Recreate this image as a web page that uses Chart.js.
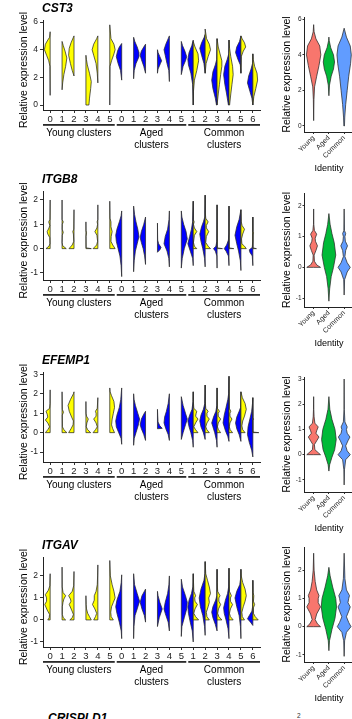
<!DOCTYPE html>
<html>
<head>
<meta charset="utf-8">
<script src="https://cdn.jsdelivr.net/npm/chart.js@4.4.1/dist/chart.umd.min.js"></script>
<style>
  html, body { margin: 0; padding: 0; background: #fff; }
  body { position: relative; width: 352px; height: 719px; overflow: hidden; }
  canvas { position: absolute; }
  .cut { position: absolute; font-family: "Liberation Sans", Arial, sans-serif; color: #000; white-space: nowrap; }
</style>
</head>
<body>
<div class="cut" style="left:48px;top:711px;font-weight:bold;font-style:italic;font-size:12px">CRISPLD1</div>
<div class="cut" style="left:297px;top:712px;font-size:6.5px;color:#333">2</div>
<script>
const FONT = "'Liberation Sans', Arial, sans-serif";

const clusterLabels = ["0", "1", "2", "3", "4", "5", "0", "1", "2", "3", "4", "5", "1", "2", "3", "4", "5", "6"];
const clusterGroupNames = [["Young clusters"], ["Aged", "clusters"], ["Common", "clusters"]];
const clusterGroupSizes = [6, 6, 6];
const identityLabels = ["Young", "Aged", "Common"];
const identityColors = ["#F8766D", "#00BA38", "#619CFF"];
const agedColor = "#0000FF";
const youngColor = "#FFFF00";

// each violin half: [expression level, half width as a share of one category slot]
const cst3Aged = [
  null, null, null, null, null, null,
  [[1.8, 0], [2.5, 0.1], [3.0, 0.3], [3.5, 0.45], [3.9, 0.35], [4.2, 0.2], [4.45, 0]],
  [[1.9, 0], [2.5, 0.05], [3.0, 0.2], [3.5, 0.45], [3.8, 0.45], [4.2, 0.3], [4.6, 0.1], [4.9, 0]],
  [[2.3, 0], [2.8, 0.15], [3.3, 0.35], [3.6, 0.45], [3.9, 0.35], [4.2, 0.15], [4.4, 0]],
  [[2.3, 0], [2.6, 0.05], [3.0, 0.25], [3.2, 0.35], [3.5, 0.2], [3.8, 0.05], [4.0, 0]],
  [[1.7, 0], [2.5, 0.05], [3.0, 0.2], [3.6, 0.35], [4.0, 0.45], [4.4, 0.3], [4.8, 0.1], [5.0, 0]],
  [[2.2, 0], [2.8, 0.15], [3.2, 0.35], [3.5, 0.45], [3.9, 0.3], [4.3, 0.1], [4.6, 0]],
  [[0, 0], [1.5, 0.05], [2.3, 0.2], [2.9, 0.4], [3.3, 0.45], [3.8, 0.35], [4.3, 0.12], [4.7, 0]],
  [[2.3, 0], [3.0, 0.1], [3.6, 0.3], [4.1, 0.45], [4.5, 0.3], [4.9, 0.08], [5.1, 0]],
  [[0, 0.05], [0.5, 0.15], [1.2, 0.35], [1.8, 0.45], [2.4, 0.35], [2.9, 0.15], [3.3, 0.03], [4.8, 0]],
  [[0, 0.05], [0.8, 0.2], [1.5, 0.35], [2.2, 0.45], [2.8, 0.35], [3.3, 0.15], [3.7, 0.02], [4.7, 0]],
  [[2.3, 0], [2.9, 0.05], [3.3, 0.25], [3.8, 0.45], [4.2, 0.35], [4.6, 0.12], [5.0, 0]],
  [[0, 0], [0.5, 0.08], [1.0, 0.25], [1.6, 0.45], [2.1, 0.35], [2.6, 0.15], [3.0, 0.03], [3.7, 0]]
];
const cst3Young = [
  [[0.7, 0], [2.8, 0.02], [3.2, 0.12], [3.6, 0.3], [4.0, 0.48], [4.4, 0.4], [4.7, 0.2], [4.9, 0.05], [5.3, 0]],
  [[1.1, 0], [1.6, 0.05], [2.2, 0.15], [2.8, 0.3], [3.4, 0.4], [3.9, 0.25], [4.3, 0.1], [4.6, 0]],
  [[2.1, 0], [2.5, 0.15], [3.0, 0.3], [3.6, 0.45], [4.1, 0.4], [4.5, 0.25], [4.9, 0.05], [5.0, 0]],
  [[0, 0.25], [0.5, 0.3], [1.2, 0.4], [1.7, 0.45], [2.3, 0.3], [2.9, 0.12], [3.3, 0.04], [3.6, 0]],
  [[1.6, 0], [2.3, 0.05], [3.0, 0.15], [3.6, 0.35], [4.0, 0.48], [4.4, 0.35], [4.8, 0.1], [5.0, 0]],
  [[0, 0], [2.8, 0.02], [3.2, 0.15], [3.7, 0.35], [4.0, 0.45], [4.4, 0.35], [4.8, 0.1], [5.8, 0]],
  null, null, null, null, null, null,
  [[0, 0], [1.0, 0.02], [1.8, 0.1], [2.5, 0.3], [3.2, 0.45], [3.7, 0.4], [4.2, 0.15], [4.6, 0]],
  [[2.3, 0], [3.0, 0.08], [3.5, 0.25], [4.0, 0.45], [4.4, 0.35], [4.8, 0.12], [5.5, 0]],
  [[0, 0], [0.8, 0.1], [1.5, 0.2], [2.2, 0.3], [2.8, 0.4], [3.2, 0.4], [3.7, 0.25], [4.2, 0.1], [4.8, 0]],
  [[0, 0.05], [0.8, 0.15], [1.5, 0.25], [2.2, 0.35], [2.8, 0.3], [3.5, 0.15], [4.1, 0.05], [4.7, 0]],
  [[2.3, 0], [3.5, 0.03], [3.9, 0.2], [4.2, 0.4], [4.5, 0.3], [4.8, 0.1], [5.0, 0]],
  [[0, 0], [0.6, 0.08], [1.2, 0.25], [1.8, 0.4], [2.3, 0.35], [2.8, 0.15], [3.3, 0.03], [3.7, 0]]
];
const cst3Identity = [
  [[0.3, 0], [1.5, 0.02], [2.2, 0.06], [2.8, 0.2], [3.4, 0.35], [4.0, 0.47], [4.5, 0.4], [4.9, 0.15], [5.3, 0.03], [5.7, 0]],
  [[1.7, 0], [2.3, 0.04], [2.8, 0.15], [3.2, 0.3], [3.6, 0.37], [4.0, 0.3], [4.4, 0.12], [4.8, 0.02], [5.0, 0]],
  [[0, 0.02], [0.5, 0.04], [1.2, 0.1], [2.0, 0.2], [2.8, 0.3], [3.5, 0.42], [4.0, 0.47], [4.5, 0.4], [5.0, 0.15], [5.5, 0]]
];

const itgb8Aged = [
  null, null, null, null, null, null,
  [[-1.15, 0], [-0.7, 0.05], [-0.3, 0.15], [0, 0.3], [0.3, 0.45], [0.55, 0.5], [0.8, 0.4], [1.1, 0.2], [1.35, 0.05], [1.55, 0]],
  [[-0.95, 0], [-0.5, 0.05], [-0.1, 0.15], [0.2, 0.3], [0.5, 0.45], [0.8, 0.35], [1.1, 0.2], [1.4, 0.08], [1.75, 0]],
  [[-0.65, 0], [-0.3, 0.08], [0, 0.2], [0.25, 0.35], [0.45, 0.45], [0.7, 0.35], [1.0, 0.15], [1.3, 0]],
  [[-0.15, 0], [-0.05, 0.2], [0.05, 0.3], [0.2, 0.1], [0.35, 0.02], [0.6, 0.01], [1.05, 0]],
  [[-0.75, 0], [-0.4, 0.05], [-0.1, 0.2], [0.2, 0.45], [0.5, 0.35], [0.8, 0.15], [1.2, 0.03], [1.55, 0]],
  [[-0.8, 0], [-0.4, 0.08], [0, 0.25], [0.4, 0.5], [0.7, 0.4], [1.0, 0.2], [1.3, 0.05], [1.55, 0]],
  [[-0.7, 0], [-0.4, 0.05], [-0.1, 0.25], [0.2, 0.45], [0.5, 0.3], [0.8, 0.15], [1.1, 0.05], [1.95, 0]],
  [[-0.75, 0], [-0.4, 0.05], [0, 0.2], [0.3, 0.35], [0.6, 0.45], [0.9, 0.3], [1.1, 0.15], [1.3, 0.03], [2.2, 0]],
  [[-0.8, 0], [-0.3, 0.02], [-0.1, 0.15], [0, 0.3], [0.1, 0.1], [0.3, 0.02], [1.8, 0]],
  [[-0.7, 0], [-0.3, 0.05], [-0.1, 0.25], [0, 0.4], [0.15, 0.2], [0.35, 0.05], [0.6, 0.01], [1.75, 0]],
  [[-0.9, 0], [-0.5, 0.05], [-0.1, 0.2], [0.2, 0.35], [0.55, 0.5], [0.9, 0.35], [1.2, 0.15], [1.6, 0]],
  [[-0.7, 0], [-0.3, 0.05], [-0.15, 0.25], [-0.05, 0.3], [0.05, 0.05], [0.3, 0.01], [1.3, 0]]
];
const itgb8Young = [
  [[0, 0.35], [0.1, 0.1], [0.2, 0.02], [0.45, 0.03], [0.6, 0.2], [0.7, 0.25], [0.85, 0.1], [0.95, 0.03], [1.1, 0.12], [1.2, 0.02], [2.0, 0]],
  [[0, 0.35], [0.12, 0.05], [0.25, 0], [0.55, 0.02], [0.67, 0.1], [0.8, 0.01], [1.0, 0.02], [1.1, 0.1], [1.2, 0], [2.0, 0]],
  [[0, 0.42], [0.15, 0.15], [0.3, 0.02], [0.6, 0.05], [0.7, 0.1], [0.8, 0.02], [1.6, 0]],
  [[0, 0.45], [0.03, 0.02], [0.5, 0.01], [0.65, 0.05], [0.75, 0.01], [1.1, 0]],
  [[0, 0.4], [0.15, 0.1], [0.3, 0.02], [0.55, 0.08], [0.7, 0.25], [0.85, 0.08], [1.0, 0.02], [1.1, 0.06], [1.2, 0], [1.8, 0]],
  [[0, 0.45], [0.15, 0.25], [0.3, 0.1], [0.5, 0.12], [0.7, 0.2], [0.9, 0.1], [1.1, 0.1], [1.25, 0.02], [1.95, 0]],
  null, null, null, null, null, null,
  [[0, 0.3], [0.1, 0.1], [0.25, 0.02], [0.55, 0.1], [0.7, 0.3], [0.85, 0.1], [1.0, 0.02], [1.1, 0.08], [1.2, 0], [1.95, 0]],
  [[0, 0.45], [0.1, 0.25], [0.25, 0.05], [0.5, 0.1], [0.7, 0.3], [0.85, 0.1], [0.95, 0.1], [1.1, 0.25], [1.25, 0.05], [1.5, 0.01], [2.2, 0]],
  [[0, 0.45], [0.03, 0.02], [1.8, 0]],
  [[0, 0.4], [0.03, 0.01], [1.75, 0]],
  [[0, 0.45], [0.1, 0.3], [0.2, 0.08], [0.4, 0.05], [0.6, 0.15], [0.8, 0.3], [0.95, 0.1], [1.1, 0.03], [1.6, 0]],
  [[0, 0.3], [0.03, 0.01], [0.6, 0.02], [0.65, 0.05], [0.7, 0.01], [1.3, 0]]
];
const itgb8Identity = [
  [[0, 0.45], [0.08, 0.2], [0.2, 0.05], [0.4, 0.03], [0.55, 0.15], [0.7, 0.25], [0.85, 0.12], [0.95, 0.1], [1.08, 0.2], [1.2, 0.05], [1.4, 0.01], [1.9, 0]],
  [[-1.1, 0], [-0.7, 0.05], [-0.3, 0.15], [0, 0.3], [0.4, 0.45], [0.8, 0.35], [1.1, 0.2], [1.4, 0.08], [1.75, 0]],
  [[-0.9, 0], [-0.4, 0.03], [-0.15, 0.2], [0, 0.4], [0.15, 0.2], [0.35, 0.05], [0.55, 0.1], [0.7, 0.22], [0.85, 0.08], [1.0, 0.05], [1.1, 0.1], [1.2, 0.02], [1.9, 0]]
];

const efemp1Aged = [
  null, null, null, null, null, null,
  [[-0.6, 0], [-0.3, 0.05], [0, 0.25], [0.3, 0.45], [0.6, 0.5], [0.9, 0.4], [1.3, 0.2], [1.7, 0.08], [2.3, 0]],
  [[-0.65, 0], [-0.3, 0.05], [0, 0.2], [0.4, 0.4], [0.7, 0.5], [1.0, 0.35], [1.4, 0.15], [1.7, 0.04], [2.0, 0]],
  [[-0.4, 0], [-0.1, 0.15], [0.2, 0.35], [0.4, 0.45], [0.7, 0.35], [0.95, 0.15], [1.1, 0]],
  [[0.2, 0], [0.22, 0.4], [0.35, 0.2], [0.55, 0.05], [0.9, 0.02], [1.2, 0]],
  [[-0.4, 0], [-0.1, 0.1], [0.2, 0.3], [0.5, 0.45], [0.8, 0.4], [1.1, 0.25], [1.5, 0.1], [2.0, 0]],
  [[-0.35, 0], [0, 0.15], [0.4, 0.35], [0.7, 0.5], [1.0, 0.35], [1.4, 0.15], [1.85, 0]],
  [[-0.75, 0], [-0.4, 0.05], [0, 0.2], [0.3, 0.35], [0.6, 0.45], [0.9, 0.3], [1.2, 0.1], [1.6, 0.02], [2.1, 0]],
  [[-0.35, 0], [0, 0.15], [0.3, 0.35], [0.6, 0.45], [0.9, 0.35], [1.2, 0.15], [1.5, 0.03], [2.45, 0]],
  [[-0.75, 0], [-0.4, 0.05], [0, 0.2], [0.3, 0.35], [0.5, 0.45], [0.8, 0.3], [1.1, 0.1], [1.4, 0.02], [2.3, 0]],
  [[-0.45, 0], [-0.2, 0.1], [0.1, 0.3], [0.5, 0.5], [0.9, 0.4], [1.3, 0.25], [1.7, 0.1], [2.0, 0.03], [2.9, 0]],
  [[-0.45, 0], [-0.1, 0.15], [0.2, 0.35], [0.5, 0.45], [0.8, 0.35], [1.1, 0.15], [1.3, 0.03], [2.1, 0]],
  [[-1.25, 0], [-0.9, 0.1], [-0.5, 0.3], [-0.1, 0.45], [0.3, 0.4], [0.7, 0.25], [1.1, 0.1], [1.5, 0.03], [1.8, 0]]
];
const efemp1Young = [
  [[0, 0.4], [0.15, 0.2], [0.3, 0.05], [0.5, 0.2], [0.65, 0.4], [0.8, 0.2], [0.95, 0.25], [1.1, 0.35], [1.25, 0.05], [1.5, 0.01], [2.2, 0]],
  [[0, 0.4], [0.15, 0.15], [0.3, 0.03], [0.9, 0.02], [1.05, 0.12], [1.2, 0.02], [2.1, 0]],
  [[0, 0.45], [0.2, 0.25], [0.4, 0.08], [0.6, 0.05], [0.8, 0.2], [1.1, 0.4], [1.4, 0.5], [1.7, 0.3], [2.0, 0.05], [2.1, 0]],
  [[0, 0.4], [0.15, 0.15], [0.3, 0.03], [0.5, 0.08], [0.7, 0.2], [0.85, 0.05], [1.0, 0.01], [1.6, 0]],
  [[0, 0.4], [0.15, 0.2], [0.3, 0.05], [0.5, 0.15], [0.7, 0.35], [0.85, 0.15], [1.0, 0.15], [1.1, 0.2], [1.25, 0.05], [1.8, 0]],
  [[0, 0.4], [0.2, 0.25], [0.4, 0.15], [0.7, 0.2], [1.0, 0.3], [1.3, 0.4], [1.6, 0.35], [1.9, 0.15], [2.1, 0.03], [2.3, 0]],
  null, null, null, null, null, null,
  [[0, 0.4], [0.15, 0.2], [0.3, 0.05], [0.5, 0.2], [0.7, 0.4], [0.85, 0.2], [1.0, 0.25], [1.1, 0.3], [1.25, 0.05], [1.6, 0.01], [2.1, 0]],
  [[0, 0.35], [0.15, 0.15], [0.3, 0.05], [0.5, 0.15], [0.7, 0.35], [0.85, 0.15], [1.0, 0.15], [1.1, 0.25], [1.25, 0.05], [1.6, 0.01], [2.45, 0]],
  [[0, 0.3], [0.15, 0.12], [0.3, 0.03], [0.5, 0.1], [0.7, 0.3], [0.85, 0.1], [1.0, 0.1], [1.1, 0.2], [1.25, 0.03], [2.3, 0]],
  [[0, 0.3], [0.15, 0.1], [0.3, 0.03], [0.5, 0.08], [0.7, 0.25], [0.85, 0.08], [1.0, 0.08], [1.1, 0.15], [1.25, 0.03], [2.9, 0]],
  [[0, 0.35], [0.15, 0.15], [0.35, 0.08], [0.6, 0.15], [0.85, 0.3], [1.2, 0.45], [1.5, 0.35], [1.8, 0.12], [2.1, 0]],
  [[0, 0.5], [0.03, 0.01], [0.65, 0.01], [0.7, 0.08], [0.75, 0.01], [1.8, 0]]
];
const efemp1Identity = [
  [[0, 0.45], [0.08, 0.3], [0.2, 0.08], [0.4, 0.05], [0.55, 0.2], [0.7, 0.35], [0.85, 0.15], [0.95, 0.2], [1.1, 0.3], [1.25, 0.08], [1.5, 0.03], [1.8, 0.01], [2.3, 0]],
  [[-0.65, 0], [-0.4, 0.05], [-0.1, 0.2], [0.2, 0.38], [0.6, 0.48], [1.0, 0.4], [1.4, 0.2], [1.8, 0.06], [2.3, 0]],
  [[-1.2, 0], [-0.6, 0.02], [-0.2, 0.1], [0, 0.4], [0.15, 0.2], [0.35, 0.1], [0.55, 0.25], [0.7, 0.38], [0.85, 0.2], [1.0, 0.15], [1.1, 0.2], [1.3, 0.05], [1.8, 0.01], [3.0, 0]]
];

const itgavAged = [
  null, null, null, null, null, null,
  [[-0.85, 0], [-0.5, 0.04], [-0.1, 0.2], [0.3, 0.4], [0.6, 0.5], [0.9, 0.4], [1.3, 0.15], [1.7, 0.04], [2.05, 0]],
  [[-0.85, 0], [-0.3, 0.03], [0.2, 0.12], [0.5, 0.3], [0.85, 0.5], [1.2, 0.3], [1.6, 0.08], [2.1, 0]],
  [[-0.1, 0], [0.2, 0.1], [0.5, 0.3], [0.8, 0.45], [1.1, 0.3], [1.4, 0]],
  [[-0.3, 0], [0.1, 0.15], [0.5, 0.4], [0.8, 0.2], [1.1, 0.05], [1.3, 0]],
  [[-0.5, 0], [-0.1, 0.1], [0.3, 0.35], [0.5, 0.45], [0.8, 0.35], [1.2, 0.15], [1.6, 0.04], [2.0, 0]],
  [[-0.75, 0], [-0.3, 0.05], [0.1, 0.25], [0.5, 0.45], [0.8, 0.5], [1.1, 0.35], [1.5, 0.1], [1.85, 0]],
  [[-1.0, 0], [-0.5, 0.08], [-0.1, 0.25], [0.3, 0.4], [0.6, 0.45], [0.9, 0.35], [1.2, 0.15], [1.5, 0.03], [2.1, 0]],
  [[-0.7, 0], [-0.3, 0.05], [0.2, 0.2], [0.6, 0.4], [1.0, 0.5], [1.4, 0.35], [1.8, 0.1], [2.1, 0.02], [2.65, 0]],
  [[-0.5, 0], [-0.2, 0.15], [0.1, 0.35], [0.35, 0.45], [0.6, 0.35], [0.9, 0.12], [1.1, 0.02], [2.3, 0]],
  [[-0.85, 0], [-0.4, 0.08], [0, 0.25], [0.3, 0.4], [0.55, 0.45], [0.9, 0.3], [1.2, 0.12], [1.5, 0.03], [2.35, 0]],
  [[-0.85, 0], [-0.3, 0.04], [0.2, 0.15], [0.6, 0.35], [1.0, 0.5], [1.3, 0.35], [1.6, 0.1], [1.9, 0.02], [2.3, 0]],
  [[-0.25, 0], [-0.1, 0.2], [0.05, 0.45], [0.2, 0.3], [0.4, 0.08], [0.6, 0.02], [1.8, 0]]
];
const itgavYoung = [
  [[0, 0.2], [0.1, 0.08], [0.25, 0.05], [0.45, 0.25], [0.7, 0.45], [0.85, 0.3], [1.0, 0.3], [1.15, 0.4], [1.35, 0.15], [1.55, 0.03], [2.1, 0]],
  [[0, 0.3], [0.1, 0.1], [0.25, 0.02], [0.6, 0.02], [0.8, 0.08], [0.95, 0.15], [1.1, 0.3], [1.25, 0.08], [1.5, 0.01], [2.4, 0]],
  [[0, 0.35], [0.1, 0.15], [0.25, 0.05], [0.45, 0.2], [0.7, 0.4], [0.85, 0.25], [0.95, 0.3], [1.1, 0.45], [1.3, 0.15], [1.55, 0.03], [2.2, 0]],
  [[0, 0.45], [0.15, 0.3], [0.3, 0.15], [0.5, 0.05], [0.7, 0.02], [1.1, 0]],
  [[0, 0.35], [0.15, 0.2], [0.3, 0.1], [0.5, 0.25], [0.7, 0.45], [0.9, 0.3], [1.1, 0.3], [1.3, 0.15], [1.6, 0.05], [2.0, 0.02], [2.5, 0]],
  [[0, 0.3], [0.15, 0.12], [0.35, 0.08], [0.6, 0.15], [0.8, 0.3], [1.0, 0.45], [1.3, 0.35], [1.6, 0.2], [2.0, 0.05], [2.7, 0]],
  null, null, null, null, null, null,
  [[0, 0.45], [0.15, 0.2], [0.3, 0.05], [0.5, 0.15], [0.7, 0.35], [0.85, 0.15], [1.0, 0.12], [1.1, 0.2], [1.3, 0.05], [2.1, 0]],
  [[0, 0.35], [0.15, 0.15], [0.35, 0.1], [0.6, 0.25], [0.8, 0.35], [1.0, 0.3], [1.2, 0.45], [1.5, 0.35], [1.8, 0.2], [2.1, 0.05], [2.65, 0]],
  [[0, 0.4], [0.15, 0.15], [0.3, 0.05], [0.5, 0.12], [0.7, 0.3], [0.85, 0.15], [1.0, 0.15], [1.1, 0.25], [1.3, 0.05], [1.7, 0.01], [2.3, 0]],
  [[0, 0.35], [0.15, 0.12], [0.3, 0.04], [0.5, 0.12], [0.7, 0.3], [0.85, 0.12], [1.0, 0.12], [1.1, 0.2], [1.3, 0.04], [2.35, 0]],
  [[0, 0.3], [0.15, 0.12], [0.35, 0.08], [0.6, 0.2], [0.85, 0.35], [1.1, 0.45], [1.4, 0.35], [1.7, 0.15], [2.0, 0.03], [2.3, 0]],
  [[0, 0.45], [0.15, 0.2], [0.3, 0.05], [0.55, 0.05], [0.7, 0.15], [0.85, 0.05], [1.1, 0.08], [1.25, 0.02], [1.8, 0]]
];
const itgavIdentity = [
  [[0, 0.45], [0.1, 0.25], [0.25, 0.1], [0.45, 0.2], [0.7, 0.45], [0.85, 0.3], [1.0, 0.3], [1.1, 0.35], [1.3, 0.2], [1.6, 0.1], [2.0, 0.03], [2.6, 0]],
  [[-0.85, 0], [-0.5, 0.04], [-0.1, 0.2], [0.3, 0.4], [0.7, 0.5], [1.0, 0.45], [1.4, 0.25], [1.8, 0.08], [2.1, 0]],
  [[-1.05, 0], [-0.5, 0.03], [-0.2, 0.15], [0, 0.45], [0.15, 0.3], [0.35, 0.15], [0.55, 0.3], [0.7, 0.4], [0.85, 0.25], [1.0, 0.3], [1.1, 0.35], [1.3, 0.15], [1.7, 0.05], [2.6, 0]]
];

const cst3Ticks = [0, 2, 4, 6];
const itgb8Ticks = [-1, 0, 1, 2];
const efemp1Ticks = [-1, 0, 1, 2, 3];
const itgavTicks = [-1, 0, 1, 2];

// page layout of each row (pixels) and the y range of its two panels
const rows = [
  { gene: "CST3", aged: cst3Aged, young: cst3Young, identity: cst3Identity, ticks: cst3Ticks,
    left: { top: 0, areaTop: 20, areaBottom: 110, height: 152, min: -0.36, max: 6.15 },
    right: { top: 0, areaTop: 17, areaBottom: 132, height: 178, min: -0.34, max: 6.13 } },
  { gene: "ITGB8", aged: itgb8Aged, young: itgb8Young, identity: itgb8Identity, ticks: itgb8Ticks,
    left: { top: 165, areaTop: 191, areaBottom: 280, height: 157, min: -1.29, max: 2.37 },
    right: { top: 180, areaTop: 193, areaBottom: 307, height: 175, min: -1.29, max: 2.42 } },
  { gene: "EFEMP1", aged: efemp1Aged, young: efemp1Young, identity: efemp1Identity, ticks: efemp1Ticks,
    left: { top: 345, areaTop: 372, areaBottom: 462, height: 160, min: -1.51, max: 3.12 },
    right: { top: 360, areaTop: 377, areaBottom: 492, height: 175, min: -1.48, max: 3.08 } },
  { gene: "ITGAV", aged: itgavAged, young: itgavYoung, identity: itgavIdentity, ticks: itgavTicks,
    left: { top: 530, areaTop: 557, areaBottom: 647, height: 160, min: -1.23, max: 2.86 },
    right: { top: 538, areaTop: 547, areaBottom: 662, height: 167, min: -1.25, max: 2.82 } }
];

const violinPlugin = {
  id: "violins",
  afterDatasetsDraw(chart, args, opts) {
    const { ctx, scales: { x, y } } = chart;
    const slot = x.getPixelForValue(1) - x.getPixelForValue(0);
    ctx.save();
    ctx.lineJoin = "round";
    ctx.lineWidth = 0.75;
    ctx.strokeStyle = "#2a2a2a";
    opts.violins.forEach((v) => {
      const cx = x.getPixelForValue(v.pos);
      const p = v.profile;
      ctx.beginPath();
      ctx.moveTo(cx, y.getPixelForValue(p[0][0]));
      p.forEach(([val, w]) => ctx.lineTo(cx + v.sides[0] * w * slot, y.getPixelForValue(val)));
      if (v.sides.length > 1) {
        p.slice().reverse().forEach(([val, w]) => ctx.lineTo(cx + v.sides[1] * w * slot, y.getPixelForValue(val)));
      } else {
        ctx.lineTo(cx, y.getPixelForValue(p[p.length - 1][0]));
      }
      ctx.closePath();
      ctx.fillStyle = v.color;
      ctx.fill();
      ctx.stroke();
    });
    ctx.restore();
  }
};

const panelText = {
  id: "panelText",
  afterDraw(chart, args, o) {
    const { ctx, chartArea: a, scales: { x } } = chart;
    ctx.save();
    ctx.fillStyle = "#000";
    ctx.textBaseline = "middle";
    if (o.title) {
      ctx.font = `italic bold 12px ${FONT}`;
      ctx.textAlign = "left";
      ctx.fillText(o.title, a.left - 1, a.top - 11);
    }
    ctx.save();
    ctx.translate(o.yTitleX, (a.top + a.bottom) / 2 + o.yTitleDy);
    ctx.rotate(-Math.PI / 2);
    ctx.font = `10.5px ${FONT}`;
    ctx.textAlign = "center";
    ctx.fillText("Relative expression level", 0, 0);
    ctx.restore();
    ctx.textAlign = "center";
    if (o.groups) {
      let start = 0;
      clusterGroupSizes.forEach((n, g) => {
        const x1 = g === 0 ? a.left : x.getPixelForValue(start - 0.5) + 1;
        const x2 = g === clusterGroupSizes.length - 1 ? a.right : x.getPixelForValue(start + n - 0.5) - 1;
        ctx.fillStyle = "#2a2a2a";
        ctx.fillRect(x1, a.bottom + 14, x2 - x1, 1.8);
        ctx.fillStyle = "#000";
        ctx.font = `10px ${FONT}`;
        clusterGroupNames[g].forEach((line, k) => ctx.fillText(line, (x1 + x2) / 2, a.bottom + 23.5 + k * 12));
        start += n;
      });
    }
    if (o.xTitle) {
      ctx.font = `9px ${FONT}`;
      ctx.fillText(o.xTitle, (a.left + a.right) / 2, a.bottom + 37);
    }
    ctx.restore();
  }
};

function splitViolins(aged, young) {
  const out = [];
  let group = 0;
  clusterLabels.forEach((_, i) => {
    [[aged[i], agedColor], [young[i], youngColor]].forEach(([profile, color]) => {
      if (!profile) return;
      group += 1;
      out.push({ pos: i, profile, color, sides: [group % 2 ? -1 : 1] });
    });
  });
  return out;
}

function addCanvas(left, top, width, height) {
  const c = document.createElement("canvas");
  c.width = width;
  c.height = height;
  c.style.left = left + "px";
  c.style.top = top + "px";
  c.style.width = width + "px";
  c.style.height = height + "px";
  document.body.appendChild(c);
  return c;
}

function axis(extra) {
  return Object.assign({
    grid: { display: true, drawOnChartArea: false, tickLength: 3, color: "#333" },
    border: { display: true, color: "#222", width: 1 }
  }, extra);
}

function clusterChart(row) {
  const g = row.left;
  const width = 262;
  const canvas = addCanvas(0, g.top, width, g.height);
  new Chart(canvas, {
    type: "scatter",
    data: { datasets: [] },
    options: {
      responsive: false,
      animation: false,
      events: [],
      layout: { padding: { top: g.areaTop - g.top, right: 2, left: 0, bottom: 0 } },
      plugins: {
        legend: { display: false },
        tooltip: { enabled: false },
        violins: { violins: splitViolins(row.aged, row.young) },
        panelText: { title: row.gene, yTitleX: 24, yTitleDy: 5, groups: true }
      },
      scales: {
        x: axis({
          type: "linear", min: -0.6, max: clusterLabels.length - 0.4,
          afterBuildTicks: (s) => { s.ticks = clusterLabels.map((_, i) => ({ value: i })); },
          afterFit: (s) => { s.height = g.height - (g.areaBottom - g.top); },
          ticks: { autoSkip: false, maxRotation: 0, padding: 1, color: "#222",
            font: { family: FONT, size: 9.5 }, callback: (v) => clusterLabels[v] }
        }),
        y: axis({
          type: "linear", min: g.min, max: g.max,
          afterBuildTicks: (s) => { s.ticks = row.ticks.map((v) => ({ value: v })); },
          afterFit: (s) => { s.width = 43; },
          ticks: { padding: 2, color: "#222", font: { family: FONT, size: 8.5 } }
        })
      }
    },
    plugins: [violinPlugin, panelText]
  });
}

function identityChart(row) {
  const g = row.right;
  const left = 270;
  const width = 90;
  const canvas = addCanvas(left, g.top, width, g.height);
  const violins = row.identity.map((profile, i) => ({ pos: i, profile, color: identityColors[i], sides: [1, -1] }));
  new Chart(canvas, {
    type: "scatter",
    data: { datasets: [] },
    options: {
      responsive: false,
      animation: false,
      events: [],
      layout: { padding: { top: g.areaTop - g.top, right: width - 83.3, left: 0, bottom: 0 } },
      plugins: {
        legend: { display: false },
        tooltip: { enabled: false },
        violins: { violins },
        panelText: { yTitleX: 17, yTitleDy: 0, xTitle: "Identity" }
      },
      scales: {
        x: axis({
          type: "linear", min: -0.6, max: identityLabels.length - 0.4,
          grid: { display: true, drawOnChartArea: false, tickLength: 2, color: "#333" },
          afterBuildTicks: (s) => { s.ticks = identityLabels.map((_, i) => ({ value: i })); },
          afterFit: (s) => { s.height = g.height - (g.areaBottom - g.top); },
          ticks: { autoSkip: false, minRotation: 45, maxRotation: 45, padding: 0, color: "#222",
            font: { family: FONT, size: 7 }, callback: (v) => identityLabels[v] }
        }),
        y: axis({
          type: "linear", min: g.min, max: g.max,
          grid: { display: true, drawOnChartArea: false, tickLength: 2, color: "#333" },
          afterBuildTicks: (s) => { s.ticks = row.ticks.map((v) => ({ value: v })); },
          afterFit: (s) => { s.width = 34.5; },
          ticks: { padding: 1, color: "#222", font: { family: FONT, size: 6.5 } }
        })
      }
    },
    plugins: [violinPlugin, panelText]
  });
}

rows.forEach((row) => {
  clusterChart(row);
  identityChart(row);
});
</script>
</body>
</html>
